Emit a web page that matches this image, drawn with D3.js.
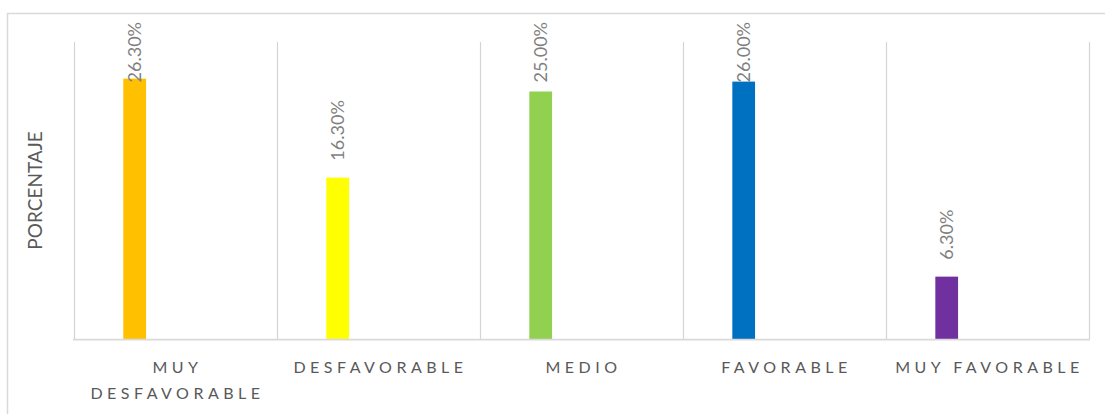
<!DOCTYPE html>
<html>
<head>
<meta charset="utf-8">
<script src="https://cdn.jsdelivr.net/npm/d3@7"></script>
<style>
  html, body { margin: 0; padding: 0; background: #fff; }
  svg { display: block; font-family: Lato, "Open Sans", sans-serif; }
</style>
</head>
<body>
<svg id="chart" width="1105" height="414"></svg>
<script>
// Category names, values (share of responses) and bar colours
const categories = ["MUY DESFAVORABLE", "DESFAVORABLE", "MEDIO", "FAVORABLE", "MUY FAVORABLE"];
const values = [0.263, 0.163, 0.25, 0.26, 0.063];
const valueLabels = ["26.30%", "16.30%", "25.00%", "26.00%", "6.30%"];
const colors = ["#FFC000", "#FFFF00", "#92D050", "#0070C0", "#7030A0"];
const yDomain = [0, 0.3];
const yTitle = "PORCENTAJE";

const svg = d3.select("#chart");
const W = 1105, H = 414;
const plot = { left: 74, right: 1089, top: 42, bottom: 339 };

// Outer chart border (only top and left edges fall inside the frame)
svg.append("rect")
  .attr("x", 7.5).attr("y", 13.5)
  .attr("width", W + 20).attr("height", H + 20)
  .attr("fill", "none").attr("stroke", "#d9d9d9").attr("stroke-width", 1.5);

const x = d3.scaleBand().domain(categories).range([plot.left, plot.right]).padding(0);
const y = d3.scaleLinear().domain(yDomain).range([plot.bottom, plot.top]);
const bw = x.bandwidth();

// Vertical category dividers
const edges = categories.map(c => x(c)).concat([plot.right]);
svg.append("g").selectAll("line").data(edges).join("line")
  .attr("x1", d => Math.round(d) + 0.5).attr("x2", d => Math.round(d) + 0.5)
  .attr("y1", plot.top).attr("y2", plot.bottom)
  .attr("stroke", "#d4d4d4").attr("stroke-width", 1.2);

// Bars
const barOffset = bw * 0.243, barWidth = bw * 0.112;
svg.append("g").selectAll("rect").data(categories).join("rect")
  .attr("x", (c) => x(c) + barOffset)
  .attr("width", barWidth)
  .attr("y", (c, i) => y(values[i]))
  .attr("height", (c, i) => y(0) - y(values[i]))
  .attr("fill", (c, i) => colors[i]);

// Baseline
svg.append("line")
  .attr("x1", plot.left - 1).attr("x2", plot.right + 1)
  .attr("y1", plot.bottom + 0.5).attr("y2", plot.bottom + 0.5)
  .attr("stroke", "#d9d9d9").attr("stroke-width", 1.75);

// Value labels, rotated, kept inside the chart's top edge
const labelTopLimit = 22;
const lg = svg.append("g");
categories.forEach((c, i) => {
  const cx = x(c) + barOffset + barWidth / 2;
  const t = lg.append("text")
    .attr("font-size", 18).attr("fill", "#7f7f7f")
    .attr("text-anchor", "start")
    .text(valueLabels[i]);
  const len = t.node().getComputedTextLength();
  const start = Math.max(y(values[i]) - 17, labelTopLimit + len);
  t.attr("transform", `translate(${cx + 6},${start}) rotate(-90)`);
});

// Category labels, wrapped to the band width
const cg = svg.append("g");
categories.forEach((c) => {
  const cx = x(c) + bw / 2 + 2;
  const t = cg.append("text")
    .attr("font-size", 16).attr("fill", "#595959")
    .attr("letter-spacing", "4.5px")
    .attr("text-anchor", "middle")
    .attr("x", cx).attr("y", 373);
  const words = c.split(" ");
  let line = [];
  let tspan = t.append("tspan").attr("x", cx).attr("dy", 0);
  words.forEach(w => {
    line.push(w);
    tspan.text(line.join(" "));
    if (tspan.node().getComputedTextLength() > bw && line.length > 1) {
      line.pop();
      tspan.text(line.join(" "));
      line = [w];
      tspan = t.append("tspan").attr("x", cx).attr("dy", 26).text(w);
    }
  });
});

// Y axis title
svg.append("text")
  .attr("transform", `translate(42,${(plot.top + plot.bottom) / 2}) rotate(-90)`)
  .attr("text-anchor", "middle")
  .attr("font-size", 19).attr("fill", "#595959")
  .text(yTitle);
</script>
</body>
</html>
